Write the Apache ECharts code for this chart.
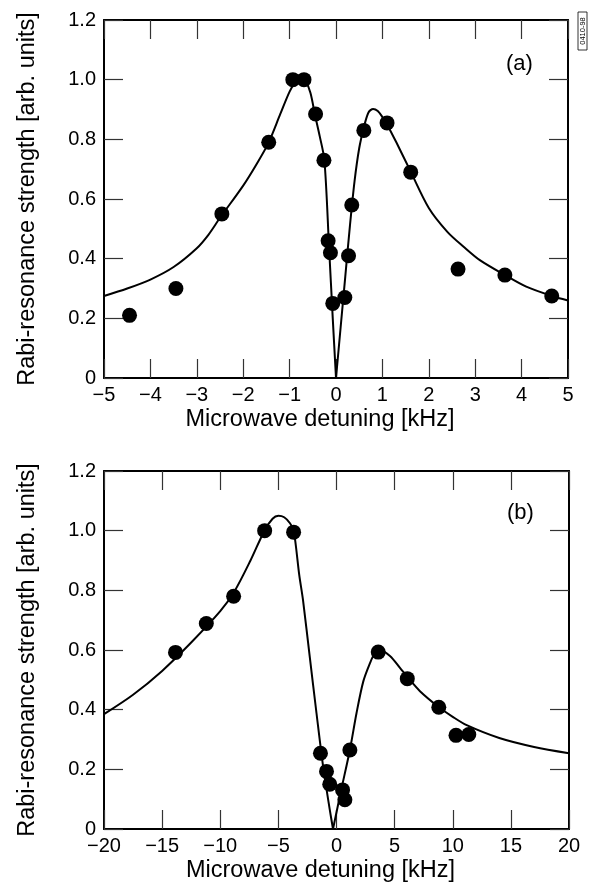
<!DOCTYPE html>
<html>
<head>
<meta charset="utf-8">
<script src="https://cdn.jsdelivr.net/npm/echarts@6/dist/echarts.min.js"></script>
<style>
html,body{margin:0;padding:0;background:#fff;}
#chart{width:590px;height:884px;}
</style>
</head>
<body>
<div id="chart"></div>
<script>
// ---------- Data ----------
// Panel (a): measured points
const pointsA_x = [-4.45, -3.45, -2.46, -1.45, -0.93, -0.69, -0.44, -0.26, -0.17, -0.12, -0.07, 0.19, 0.27, 0.34, 0.60, 1.10, 1.61, 2.63, 3.64, 4.65];
const pointsA_y = [0.21, 0.30, 0.55, 0.79, 1.00, 1.00, 0.885, 0.73, 0.46, 0.42, 0.25, 0.27, 0.41, 0.58, 0.83, 0.855, 0.69, 0.365, 0.345, 0.275];
// Panel (a): fitted curve (left and right of the dip)
const curveA_left = [[-5, 0.275], [-4.5, 0.30], [-4, 0.33], [-3.5, 0.372], [-3, 0.435], [-2.75, 0.48], [-2.5, 0.537], [-2, 0.645], [-1.7, 0.72], [-1.45, 0.79], [-1.2, 0.885], [-1.0, 0.96], [-0.85, 1.0], [-0.75, 1.01], [-0.65, 0.995], [-0.55, 0.955], [-0.45, 0.88], [-0.35, 0.81], [-0.25, 0.73], [-0.15, 0.44], [-0.07, 0.20], [0, 0]];
const curveA_right = [[0, 0], [0.1, 0.17], [0.2, 0.34], [0.3, 0.51], [0.4, 0.66], [0.5, 0.77], [0.6, 0.84], [0.7, 0.89], [0.8, 0.902], [0.9, 0.895], [1.0, 0.875], [1.1, 0.85], [1.3, 0.79], [1.6, 0.695], [2.0, 0.57], [2.4, 0.49], [2.75, 0.44], [3.1, 0.395], [3.64, 0.345], [4.1, 0.306], [4.65, 0.275], [5.0, 0.26]];

// Panel (b): measured points
const pointsB_x = [-13.85, -11.2, -8.85, -6.18, -3.69, -1.38, -0.86, -0.58, 0.52, 0.72, 1.15, 3.59, 6.09, 8.8, 10.28, 11.38];
const pointsB_y = [0.592, 0.689, 0.78, 1.0, 0.995, 0.254, 0.193, 0.15, 0.131, 0.098, 0.265, 0.593, 0.504, 0.408, 0.314, 0.317];
// Panel (b): fitted curve
const curveB_left = [[-20, 0.385], [-17.5, 0.45], [-15, 0.53], [-12.5, 0.625], [-10, 0.73], [-8.8, 0.795], [-7.4, 0.90], [-6.2, 1.0], [-5.5, 1.04], [-5, 1.05], [-4.5, 1.045], [-4.0, 1.025], [-3.68, 1.0], [-3.2, 0.85], [-2.88, 0.767], [-2.3, 0.577], [-1.72, 0.388], [-1.15, 0.209], [-0.58, 0.065], [-0.3, 0]];
const curveB_right = [[-0.3, 0], [0.4, 0.13], [1.15, 0.265], [1.72, 0.388], [2.3, 0.494], [2.87, 0.555], [3.3, 0.59], [3.7, 0.60], [4.6, 0.58], [5.46, 0.54], [6.09, 0.51], [7.18, 0.462], [8.82, 0.408], [10, 0.376], [11.2, 0.348], [14, 0.305], [17, 0.275], [20, 0.254]];

// Tick labels
const xTickLabelsA = ['\u22125', '\u22124', '\u22123', '\u22122', '\u22121', '0', '1', '2', '3', '4', '5'];
const xTickLabelsB = ['\u221220', '\u221215', '\u221210', '\u22125', '0', '5', '10', '15', '20'];
const yTickLabels = ['0', '0.2', '0.4', '0.6', '0.8', '1.0', '1.2'];

const xTitle = 'Microwave detuning [kHz]';
const yTitle = 'Rabi-resonance strength [arb. units]';
const panelLabels = ['(a)', '(b)'];

// ---------- Chart ----------
const FONT = '"Liberation Sans", Arial, Helvetica, sans-serif';
const zip = (xs, ys) => xs.map((x, i) => [x, ys[i]]);
const pick = (labels, min, step) => v => labels[Math.round((v - min) / step)] ?? '';

function xAxes(gi, min, max, step, labels) {
  const common = {
    gridIndex: gi, type: 'value', min: min, max: max, interval: step,
    splitLine: { show: false },
    axisLine: { onZero: false, lineStyle: { color: '#000', width: 2 } },
    axisTick: { inside: true, length: 19, lineStyle: { color: '#333', width: 1.2 } }
  };
  return [
    Object.assign({}, common, {
      position: 'bottom',
      axisLabel: { show: true, fontSize: 20, color: '#000', fontFamily: FONT, margin: 7,
        showMinLabel: true, showMaxLabel: true, formatter: pick(labels, min, step) },
      name: xTitle, nameLocation: 'middle', nameGap: 30,
      nameTextStyle: { fontSize: 23.5, color: '#000', fontFamily: FONT, padding: [0, 32, 0, 0] }
    }),
    Object.assign({}, common, { position: 'top', axisLabel: { show: false } })
  ];
}
function yAxes(gi) {
  const common = {
    gridIndex: gi, type: 'value', min: 0, max: 1.2, interval: 0.2,
    splitLine: { show: false },
    axisLine: { onZero: false, lineStyle: { color: '#000', width: 2 } },
    axisTick: { inside: true, length: 19, lineStyle: { color: '#333', width: 1.2 } }
  };
  return [
    Object.assign({}, common, {
      position: 'left',
      axisLabel: { show: true, fontSize: 20, color: '#000', fontFamily: FONT, margin: 8,
        showMinLabel: true, showMaxLabel: true, formatter: pick(yTickLabels, 0, 0.2) },
      name: yTitle, nameLocation: 'middle', nameGap: 64,
      nameTextStyle: { fontSize: 23.5, color: '#000', fontFamily: FONT }
    }),
    Object.assign({}, common, { position: 'right', axisLabel: { show: false } })
  ];
}

const lineStyle = { color: '#000', width: 2 };
function curve(xi, yi, data) {
  return { type: 'line', xAxisIndex: xi, yAxisIndex: yi, data: data, showSymbol: false, symbol: 'none',
    smooth: 0.3, lineStyle: lineStyle, silent: true, z: 2 };
}
function dots(xi, yi, data) {
  return { type: 'scatter', xAxisIndex: xi, yAxisIndex: yi, data: data, symbol: 'circle', symbolSize: 15,
    itemStyle: { color: '#000', opacity: 1 }, silent: true, z: 3 };
}

const option = {
  animation: false,
  backgroundColor: '#fff',
  grid: [
    { left: 104, top: 20, width: 464, height: 358 },
    { left: 104, top: 471, width: 465, height: 358 }
  ],
  xAxis: [].concat(xAxes(0, -5, 5, 1, xTickLabelsA), xAxes(1, -20, 20, 5, xTickLabelsB)),
  yAxis: [].concat(yAxes(0), yAxes(1)),
  series: [
    curve(0, 0, curveA_left),
    curve(0, 0, curveA_right),
    dots(0, 0, zip(pointsA_x, pointsA_y)),
    curve(2, 2, curveB_left),
    curve(2, 2, curveB_right),
    dots(2, 2, zip(pointsB_x, pointsB_y))
  ],
  graphic: [
    { type: 'text', left: 506, top: 53, style: { text: panelLabels[0], fontSize: 22, fill: '#000', fontFamily: FONT } },
    { type: 'text', left: 507, top: 502, style: { text: panelLabels[1], fontSize: 22, fill: '#000', fontFamily: FONT } },
    { type: 'group', x: 582.5, y: 31, rotation: Math.PI / 2, children: [
      { type: 'rect', shape: { x: -19, y: -4.5, width: 38, height: 9 }, style: { fill: '#fff', stroke: '#000', lineWidth: 0.8 } },
      { type: 'text', style: { text: '0410-98', x: 0, y: 0, fontSize: 7.5, fill: '#000', fontFamily: FONT, align: 'center', verticalAlign: 'middle' } }
    ] }
  ]
};

const chart = echarts.init(document.getElementById('chart'), null, { renderer: 'canvas' });
chart.setOption(option);
</script>
</body>
</html>
